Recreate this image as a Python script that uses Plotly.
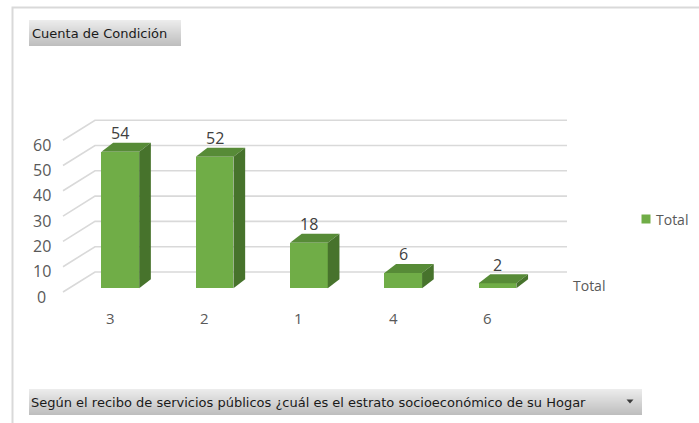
import plotly.graph_objects as go

# Pivot chart data: count of responses per socioeconomic stratum
categories = ["3", "2", "1", "4", "6"]
counts = [54, 52, 18, 6, 2]
y_ticks = [0, 10, 20, 30, 40, 50, 60]
series_name = "Total"
value_title = "Cuenta de Condición"
category_title = "Según el recibo de servicios públicos ¿cuál es el estrato socioeconómico de su Hogar"

W, H = 699, 423

# Screen mapping of the chart's data space (front plane of the bars)
PX_PER_CAT = 94.3
X0_PX = 120.3
PX_PER_UNIT = 2.53
Y0_PX = 288.3


def px_x(px):
    return (px - X0_PX) / PX_PER_CAT


def px_dy(dpx):
    return dpx / PX_PER_UNIT


BAR_W = 0.4
DEPTH_DX = px_x(X0_PX + 11.7)
DEPTH_DY = px_dy(9.0)

WALL_FRONT_X = px_x(63)
WALL_BACK_X = px_x(95)
WALL_RIGHT_X = px_x(567)
WALL_FRONT_DY = px_dy(-3.7)
WALL_BACK_DY = px_dy(16.3)

FRONT = "#70AD47"
TOP = "#578B37"
SIDE = "#47732C"
GRID = "#D9D9D9"
TXT = "#595959"
FONT = "Open Sans"

idx = list(range(len(categories)))
fig = go.Figure()
shapes = []

# Back wall gridlines and the perspective lines of the left wall (kept beneath the columns)
for v in y_ticks:
    shapes.append(dict(type="path", xref="x", yref="y", layer="below",
                       path=(f"M{WALL_FRONT_X},{v + WALL_FRONT_DY} L{WALL_BACK_X},{v + WALL_BACK_DY} "
                             f"L{WALL_RIGHT_X},{v + WALL_BACK_DY}"),
                       line=dict(color=GRID, width=1.6)))

# Front faces of the columns
fig.add_trace(go.Bar(x=idx, y=counts, width=BAR_W, marker=dict(color=FRONT, line=dict(width=0)),
                     name=series_name, showlegend=False))

# Top and side faces give the columns their depth
for i, v in zip(idx, counts):
    l, r = i - BAR_W / 2, i + BAR_W / 2
    fig.add_trace(go.Scatter(
        x=[l, r, r + DEPTH_DX, l + DEPTH_DX, l],
        y=[v, v, v + DEPTH_DY, v + DEPTH_DY, v],
        fill="toself", fillcolor=TOP, mode="lines", line=dict(width=0, color=TOP),
        hoverinfo="skip", showlegend=False))
    fig.add_trace(go.Scatter(
        x=[r, r, r + DEPTH_DX, r + DEPTH_DX, r],
        y=[0, v, v + DEPTH_DY, DEPTH_DY, 0],
        fill="toself", fillcolor=SIDE, mode="lines", line=dict(width=0, color=SIDE),
        hoverinfo="skip", showlegend=False))

ann = []
# Value labels above each column
for i, v in zip(idx, counts):
    ann.append(dict(x=i, y=v, xref="x", yref="y", text=str(v), showarrow=False,
                    yanchor="middle", yshift=18.7,
                    font=dict(family=FONT, size=16, color="#404040")))
# Category labels along the front edge of the floor
for i, c in zip(idx, categories):
    ann.append(dict(x=i, y=px_dy(Y0_PX - 318), xref="x", yref="y", text=c, showarrow=False,
                    xshift=-10, yanchor="middle",
                    font=dict(family=FONT, size=15, color=TXT)))
# Value axis labels
for v in y_ticks:
    ann.append(dict(x=px_x(41.5), y=v + px_dy(-8.2), xref="x", yref="y", text=str(v),
                    showarrow=False, yanchor="middle", xanchor="center",
                    font=dict(family=FONT, size=16, color=TXT)))
# Series axis label
ann.append(dict(x=571, y=285, xref="x2", yref="y2", text=series_name, showarrow=False,
                xanchor="left", yanchor="middle", font=dict(family=FONT, size=14, color=TXT)))
# Legend
fig.add_trace(go.Scatter(x=[646], y=[219], xaxis="x2", yaxis="y2", mode="markers",
                         marker=dict(symbol="square", size=9, color=FRONT),
                         hoverinfo="skip", showlegend=False))
ann.append(dict(x=654, y=219, xref="x2", yref="y2", text=series_name, showarrow=False,
                xanchor="left", yanchor="middle", font=dict(family=FONT, size=14, color=TXT)))

# Chart area border
shapes.append(dict(type="path", xref="x2", yref="y2", path=f"M12.5,{H} L12.5,7.5 L{W},7.5",
                   line=dict(color="#D9D9D9", width=2)))


def field_button(x0, x1, y0, y1):
    # vertical grey gradient built from one-pixel bands
    n = int(round(y1 - y0))
    c_top, c_bot = (236, 236, 236), (190, 190, 190)
    for k in range(n):
        t = k / max(n - 1, 1)
        c = tuple(round(a + (b - a) * t) for a, b in zip(c_top, c_bot))
        shapes.append(dict(type="rect", xref="x2", yref="y2", x0=x0, x1=x1,
                           y0=y0 + k, y1=y0 + k + 1, line=dict(width=0),
                           fillcolor=f"rgb{c}", layer="below"))


field_button(29, 181, 20, 46)
field_button(29, 642, 389, 415)
shapes.append(dict(type="path", xref="x2", yref="y2", path="M626.5,399.5 L633.5,399.5 L630,403.5 Z",
                   fillcolor="#3a3a3a", line=dict(width=0)))

BTN_FONT = dict(family="DejaVu Sans", size=13, color="#1a1a1a")
ann.append(dict(x=30, y=33, xref="x2", yref="y2", text=value_title, showarrow=False,
                xanchor="left", yanchor="middle", font=BTN_FONT))
ann.append(dict(x=29, y=402, xref="x2", yref="y2", text=category_title, showarrow=False,
                xanchor="left", yanchor="middle", font=BTN_FONT))

fig.update_layout(
    width=W, height=H, margin=dict(l=0, r=0, t=0, b=0),
    paper_bgcolor="white", plot_bgcolor="white",
    xaxis=dict(range=[px_x(0), px_x(W)], visible=False, fixedrange=True),
    yaxis=dict(range=[px_dy(Y0_PX - H), px_dy(Y0_PX)], visible=False, fixedrange=True),
    xaxis2=dict(range=[0, W], overlaying="x", visible=False, fixedrange=True),
    yaxis2=dict(range=[H, 0], overlaying="y", visible=False, fixedrange=True),
    annotations=ann, shapes=shapes, showlegend=False, bargap=0,
)

fig.write_html("out.html")
